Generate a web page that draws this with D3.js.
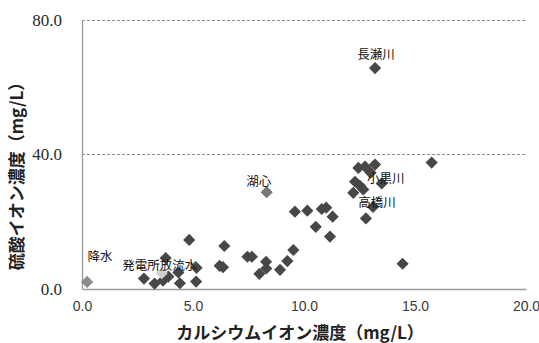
<!DOCTYPE html>
<html>
<head>
<meta charset="utf-8">
<script src="https://cdn.jsdelivr.net/npm/d3@7/dist/d3.min.js"></script>
<style>
  html, body { margin: 0; padding: 0; background: #fff; }
  svg { display: block; }
</style>
</head>
<body>
<svg id="chart" width="539" height="343"></svg>
<script>
// Calcium vs sulfate concentration (mg/L) at sampling sites
const riverCa  = [2.79, 3.27, 3.77, 3.65, 3.89, 4.34, 4.41, 4.83, 5.14, 5.16,
                  6.20, 6.35, 6.41, 7.45, 7.65, 7.99, 8.29, 8.30, 8.92, 9.25,
                  9.52, 9.59, 10.15, 10.80, 11.00, 11.29, 10.53, 11.17, 12.79, 14.44,
                  15.75, 13.20, 12.45, 12.75, 13.20, 13.00, 13.50, 12.30, 12.52, 12.22,
                  12.67, 13.11];
const riverSO4 = [3.1, 1.6, 9.2, 2.5, 3.7, 4.9, 1.7, 14.6, 2.2, 6.3,
                  6.9, 6.5, 12.8, 9.6, 9.6, 4.5, 8.1, 6.1, 5.7, 8.3,
                  11.6, 23.0, 23.3, 23.8, 24.2, 21.5, 18.5, 15.6, 21.0, 7.5,
                  37.6, 65.7, 36.0, 36.4, 37.0, 34.6, 31.4, 31.9, 30.7, 28.6,
                  29.6, 24.4];
const riverNames = ["", "", "", "", "", "", "", "", "", "",
                    "", "", "", "", "", "", "", "", "", "",
                    "", "", "", "", "", "", "", "", "", "",
                    "", "長瀬川", "", "", "", "", "小黒川", "", "", "",
                    "", "高橋川"];

const otherNames = ["降水", "発電所放流水", "湖心"];
const otherCa    = [0.23, 3.59, 8.32];
const otherSO4   = [2.1, 4.7, 28.8];

const xTicks = [0, 5, 10, 15, 20];
const yTicks = [0, 40, 80];
const xTitle = "カルシウムイオン濃度（mg/L）";
const yTitle = "硫酸イオン濃度（mg/L）";

// marker fills and label placement
const otherFill = { "降水": "#8a8a8a", "発電所放流水": "#d0d0d0", "湖心": "#767676" };
const riverFill = "#474747";
const labelOffset = {
  "長瀬川": [1, -12], "小黒川": [4, -4], "高橋川": [4, -3],
  "降水": [13, -24], "発電所放流水": [-2, -7], "湖心": [-8, -10]
};

const svg = d3.select("#chart");
const x = d3.scaleLinear().domain([0, 20]).range([82, 526]);
const y = d3.scaleLinear().domain([0, 80]).range([289, 20]);

// dashed horizontal gridlines
svg.append("g")
  .selectAll("line")
  .data(yTicks.filter(v => v > 0))
  .join("line")
  .attr("x1", x(0)).attr("x2", x(20))
  .attr("y1", d => y(d)).attr("y2", d => y(d))
  .attr("stroke", "#8c8c8c")
  .attr("stroke-width", 1)
  .attr("stroke-dasharray", "3,2")
  .attr("shape-rendering", "crispEdges");

// axes
const xAxis = svg.append("g")
  .attr("transform", `translate(0,${y(0)})`)
  .call(d3.axisBottom(x).tickValues(xTicks).tickSize(0).tickPadding(12)
        .tickFormat(d3.format(".1f")));
xAxis.select(".domain").attr("stroke", "#9a9a9a").attr("stroke-width", 1.3);
xAxis.selectAll("text")
  .attr("font-family", "'Liberation Sans', Arial, sans-serif")
  .attr("font-size", 14)
  .attr("fill", "#3a3a3a");

const yAxis = svg.append("g")
  .attr("transform", `translate(${x(0)},0)`)
  .call(d3.axisLeft(y).tickValues(yTicks).tickSize(0).tickPadding(20)
        .tickFormat(d3.format(".1f")));
yAxis.select(".domain").attr("stroke", "#9a9a9a").attr("stroke-width", 1.3);
yAxis.selectAll("text")
  .attr("font-family", "'Liberation Serif', 'DejaVu Serif', serif")
  .attr("font-size", 17)
  .attr("fill", "#2a2a2a");

// axis titles
svg.append("text")
  .attr("x", 300).attr("y", 334)
  .attr("text-anchor", "middle").attr("dominant-baseline", "middle")
  .attr("font-family", "'Noto Sans CJK JP', sans-serif")
  .attr("font-weight", "bold").attr("font-size", 17)
  .attr("fill", "#222")
  .text(xTitle);

svg.append("text")
  .attr("transform", "translate(18,172) rotate(-90)")
  .attr("text-anchor", "middle").attr("dominant-baseline", "middle")
  .attr("font-family", "'Noto Sans CJK JP', sans-serif")
  .attr("font-weight", "bold").attr("font-size", 17)
  .attr("fill", "#222")
  .text(yTitle);

// diamond markers
const diamond = d3.symbol().type(d3.symbolSquare).size(74);

const riverPts = riverCa.map((c, i) => ({ name: riverNames[i], ca: c, so4: riverSO4[i], fill: riverFill }));
const otherPts = otherCa.map((c, i) => ({ name: otherNames[i], ca: c, so4: otherSO4[i], fill: otherFill[otherNames[i]] }));
const allPts = riverPts.concat(otherPts);

svg.append("g")
  .selectAll("path")
  .data(allPts)
  .join("path")
  .attr("d", diamond)
  .attr("transform", d => `translate(${x(d.ca)},${y(d.so4)}) rotate(45)`)
  .attr("fill", d => d.fill);

// site labels
svg.append("g")
  .selectAll("text")
  .data(allPts.filter(d => d.name))
  .join("text")
  .attr("x", d => x(d.ca) + labelOffset[d.name][0])
  .attr("y", d => y(d.so4) + labelOffset[d.name][1])
  .attr("text-anchor", "middle").attr("dominant-baseline", "middle")
  .attr("font-family", "'Noto Sans CJK JP', sans-serif")
  .attr("font-size", 12.5)
  .attr("fill", "#111")
  .text(d => d.name);
</script>
</body>
</html>
